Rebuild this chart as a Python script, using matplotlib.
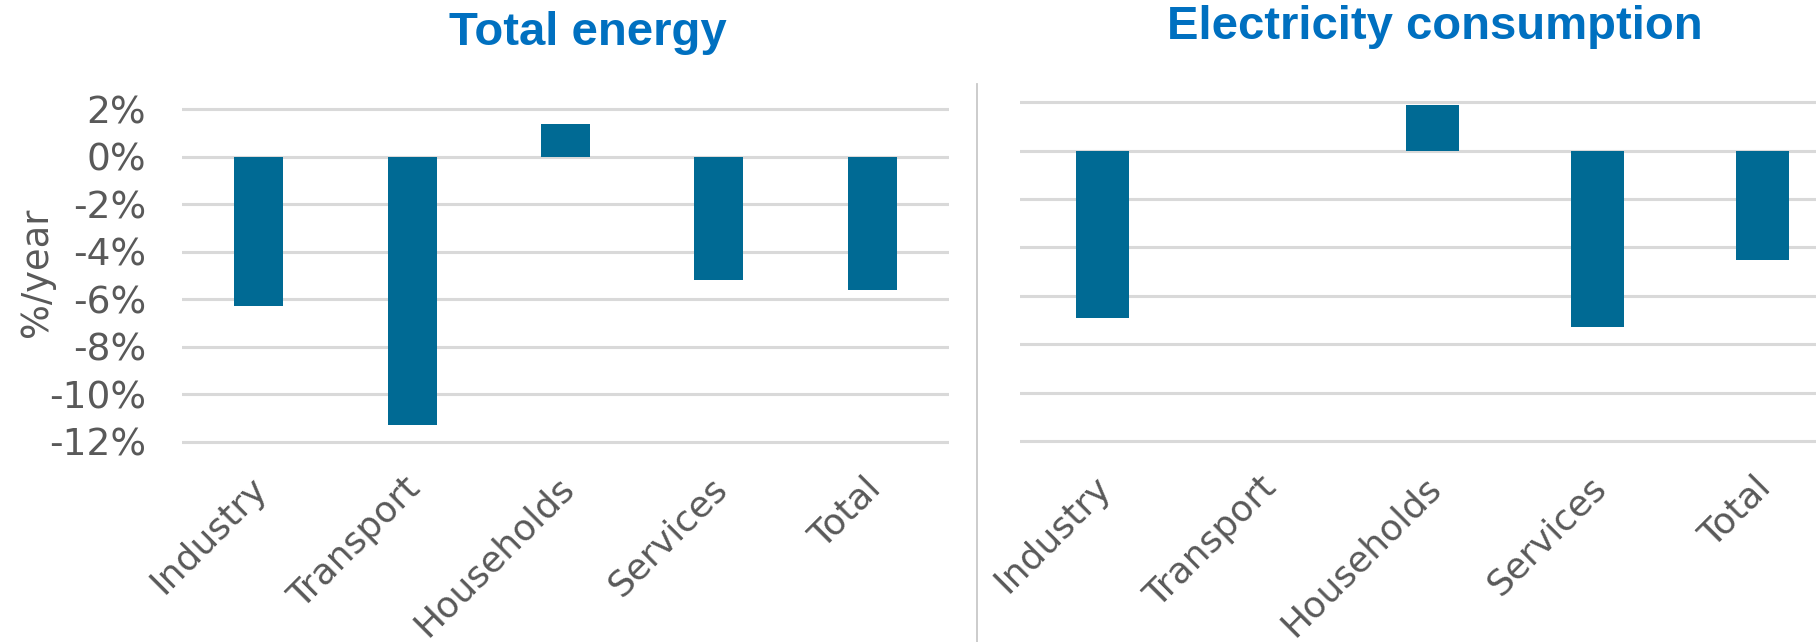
import numpy as np
import matplotlib
matplotlib.use("Agg")
import matplotlib.pyplot as plt

# Average annual change by sector
sectors = ["Industry", "Transport", "Households", "Services", "Total"]
total_energy = [-6.3, -11.3, 1.4, -5.2, -5.6]
electricity = [-6.9, np.nan, 1.9, -7.3, -4.5]
y_ticks = [2, 0, -2, -4, -6, -8, -10, -12]
titles = ["Total energy", "Electricity consumption"]

BAR_COLOR = "#006A94"
GRID_COLOR = "#D9D9D9"
TEXT_GRAY = "#595959"
TITLE_BLUE = "#0070C0"

W, H = 1816, 642
fig = plt.figure(figsize=(W / 100, H / 100), dpi=100)
plt.rcParams["font.family"] = ["DejaVu Sans"]

PAD = 0.4          # extra y-range so edge gridlines are not clipped
LABEL_SHIFT = 15   # px: category labels sit slightly right of the bar centre


def add_panel(x0, x1, y_top, y_bot):
    """Create axes whose ylim (2 .. -12) spans pixel rows y_top..y_bot."""
    ppu = (y_bot - y_top) / 14.0
    top = y_top - PAD * ppu
    bot = y_bot + PAD * ppu
    ax = fig.add_axes([x0 / W, 1 - bot / H, (x1 - x0) / W, (bot - top) / H])
    ax.set_ylim(-12 - PAD, 2 + PAD)
    ax.set_xlim(-0.5, 4.5)
    for s in ax.spines.values():
        s.set_visible(False)
    ax.set_yticks(y_ticks)
    ax.yaxis.grid(True, color=GRID_COLOR, linewidth=2.2)
    ax.set_axisbelow(True)
    ax.tick_params(axis="both", length=0)
    dx = LABEL_SHIFT / ((x1 - x0) / 5.0)
    ax.set_xticks(np.arange(len(sectors)) + dx)
    ax.set_xticklabels(sectors, rotation=45, ha="right", va="top",
                       fontsize=26, color=TEXT_GRAY)
    ax.tick_params(axis="x", pad=14)
    return ax


# Left panel: total energy
ax1 = add_panel(182, 949, 109.3, 441.7)
ax1.bar(range(len(sectors)), total_energy, width=0.32, color=BAR_COLOR, zorder=3)
ax1.set_yticklabels([f"{t}%" for t in y_ticks], fontsize=27, color=TEXT_GRAY)
ax1.tick_params(axis="y", pad=26)

# Right panel: electricity consumption (extends past the right edge)
ax2 = add_panel(1020, 1845, 102.3, 441.0)
ax2.bar(range(len(sectors)), electricity, width=0.32, color=BAR_COLOR, zorder=3)
ax2.set_yticklabels([])

# Y axis label
fig.text(36.5 / W, 1 - 272 / H, "%/year", rotation=90, ha="center", va="center",
         fontsize=26.5, color=TEXT_GRAY)

# Panel titles
fig.text(588 / W, 1 - 45 / H, titles[0], ha="center", va="baseline",
         fontsize=34, fontweight="bold", color=TITLE_BLUE,
         family="Liberation Sans")
fig.text(1435 / W, 1 - 39 / H, titles[1], ha="center", va="baseline",
         fontsize=34, fontweight="bold", color=TITLE_BLUE,
         family="Liberation Sans")

# Vertical separator between the panels
fig.add_artist(plt.Line2D([977 / W, 977 / W], [0, 1 - 84 / H],
                          transform=fig.transFigure, color="#C8C8C8",
                          linewidth=1.3))

fig.savefig("out.png", dpi=100)
